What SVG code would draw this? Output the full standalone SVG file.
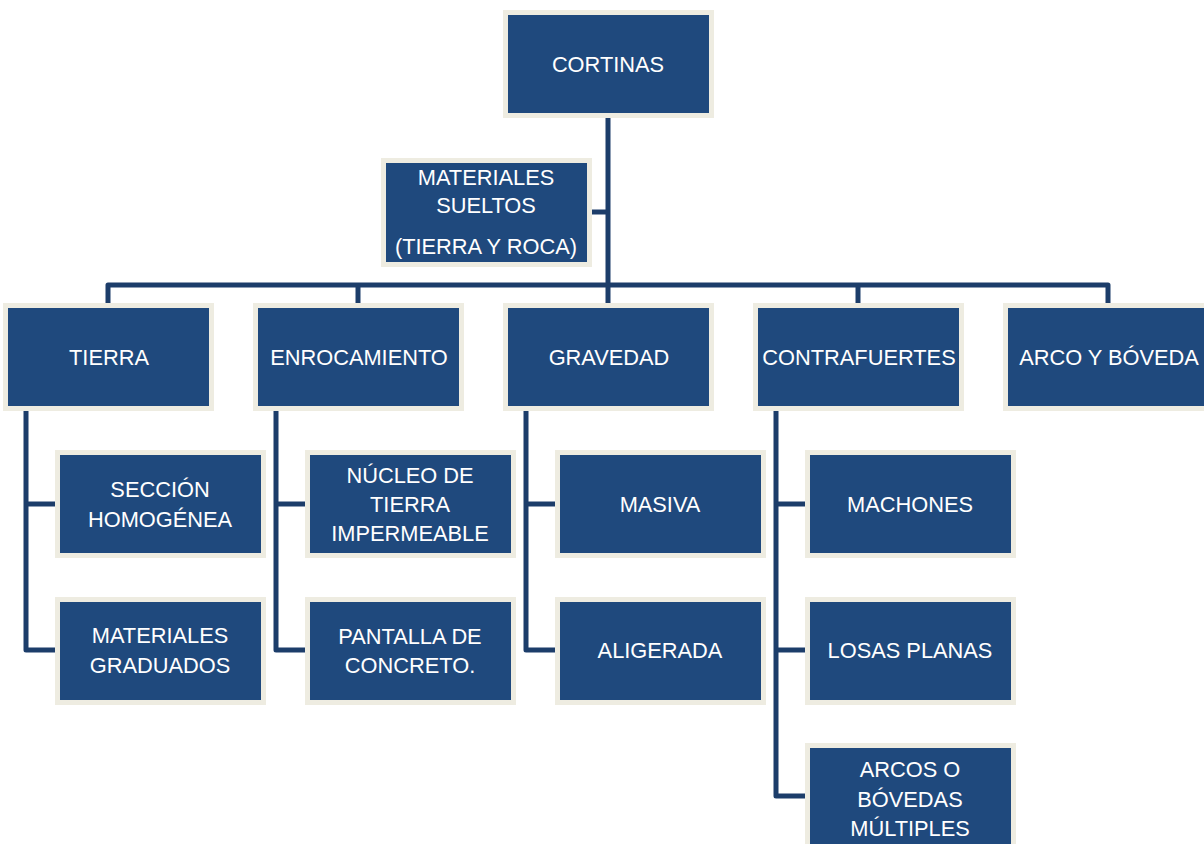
<svg xmlns="http://www.w3.org/2000/svg" width="1204" height="844" viewBox="0 0 1204 844">
<style>
.box{fill:#1F497D;stroke:#EEECE1;stroke-width:5}
.t{font-family:"Liberation Sans",Arial,sans-serif;font-size:21.8px;fill:#FFFFFF;text-anchor:middle}
.c{fill:none;stroke:#1C3D6A;stroke-width:5;stroke-linejoin:round;stroke-linecap:butt}
</style>
<rect width="1204" height="844" fill="#FFFFFF"/>
<g id="connectors">
<path class="c" d="M608,118 V303"/>
<path class="c" d="M592,212 H608"/>
<path class="c" d="M108,303 V285 H1108 V303"/>
<path class="c" d="M358,285 V303"/>
<path class="c" d="M858,285 V303"/>
<path class="c" d="M26,411 V650 H55"/>
<path class="c" d="M26,504 H55"/>
<path class="c" d="M276,411 V650 H305"/>
<path class="c" d="M276,504 H305"/>
<path class="c" d="M526,411 V650 H555"/>
<path class="c" d="M526,504 H555"/>
<path class="c" d="M776,411 V796 H805"/>
<path class="c" d="M776,504 H805"/>
<path class="c" d="M776,650 H805"/>
</g>
<g id="cortinas"><rect class="box" x="505.5" y="12.5" width="206" height="103"/><text class="t" x="608" y="72">CORTINAS</text></g>
<g id="materiales-sueltos"><rect class="box" x="383.5" y="160.5" width="206" height="104"/><text class="t" x="486" y="185">MATERIALES</text><text class="t" x="486" y="213">SUELTOS</text><text class="t" x="486" y="254">(TIERRA Y ROCA)</text></g>
<g id="tierra"><rect class="box" x="5.5" y="305.5" width="206" height="103"/><text class="t" x="109" y="365">TIERRA</text></g>
<g id="enrocamiento"><rect class="box" x="255.5" y="305.5" width="206" height="103"/><text class="t" x="359" y="365">ENROCAMIENTO</text></g>
<g id="gravedad"><rect class="box" x="505.5" y="305.5" width="206" height="103"/><text class="t" x="609" y="365">GRAVEDAD</text></g>
<g id="contrafuertes"><rect class="box" x="755.5" y="305.5" width="206" height="103"/><text class="t" x="859" y="365">CONTRAFUERTES</text></g>
<g id="arco-boveda"><rect class="box" x="1005.5" y="305.5" width="206" height="103"/><text class="t" x="1109" y="365">ARCO Y BÓVEDA</text></g>
<g id="seccion-homogenea"><rect class="box" x="57.5" y="452.5" width="206" height="103"/><text class="t" x="160" y="497">SECCIÓN</text><text class="t" x="160" y="527">HOMOGÉNEA</text></g>
<g id="materiales-graduados"><rect class="box" x="57.5" y="599.5" width="206" height="103"/><text class="t" x="160" y="643">MATERIALES</text><text class="t" x="160" y="673">GRADUADOS</text></g>
<g id="nucleo"><rect class="box" x="307.5" y="452.5" width="206" height="103"/><text class="t" x="410" y="483">NÚCLEO DE</text><text class="t" x="410" y="512">TIERRA</text><text class="t" x="410" y="541">IMPERMEABLE</text></g>
<g id="pantalla"><rect class="box" x="307.5" y="599.5" width="206" height="103"/><text class="t" x="410" y="644">PANTALLA DE</text><text class="t" x="410" y="673">CONCRETO.</text></g>
<g id="masiva"><rect class="box" x="557.5" y="452.5" width="206" height="103"/><text class="t" x="660" y="512">MASIVA</text></g>
<g id="aligerada"><rect class="box" x="557.5" y="599.5" width="206" height="103"/><text class="t" x="660" y="658">ALIGERADA</text></g>
<g id="machones"><rect class="box" x="807.5" y="452.5" width="206" height="103"/><text class="t" x="910" y="512">MACHONES</text></g>
<g id="losas-planas"><rect class="box" x="807.5" y="599.5" width="206" height="103"/><text class="t" x="910" y="658">LOSAS PLANAS</text></g>
<g id="arcos-multiples"><rect class="box" x="807.5" y="745.5" width="206" height="103"/><text class="t" x="910" y="777">ARCOS O</text><text class="t" x="910" y="807">BÓVEDAS</text><text class="t" x="910" y="836">MÚLTIPLES</text></g>
</svg>
